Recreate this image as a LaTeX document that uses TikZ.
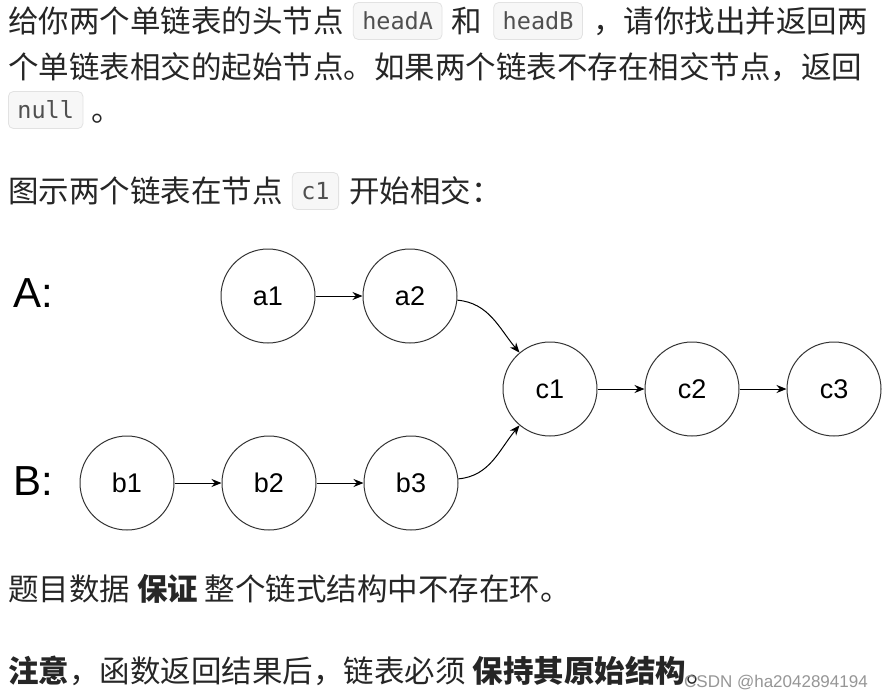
\documentclass[tikz,border=0pt]{standalone}
\usepackage{fontspec}
\newfontfamily\cjk{Noto Sans CJK SC}
\newfontfamily\codefont{DejaVu Sans Mono}
\newfontfamily\sansfont{Liberation Sans}
\usetikzlibrary{arrows.meta,positioning}
\definecolor{textcol}{RGB}{38,38,38}
\definecolor{codefill}{RGB}{247,247,247}
\definecolor{codeline}{RGB}{226,226,226}
\definecolor{codetext}{RGB}{80,80,80}
\definecolor{markcol}{RGB}{150,150,150}
\tikzset{
  para/.style={font=\cjk\fontsize{30.5}{36}\selectfont, text=textcol, inner sep=0pt,
    text height=26.8pt, text depth=3.7pt},
  code/.style={font=\codefont\fontsize{23.5}{28}\selectfont, text=codetext, draw=codeline,
    fill=codefill, rounded corners=5pt, inner xsep=9pt, inner ysep=10pt,
    text height=17pt, text depth=0pt, line width=0.8pt},
  listnode/.style={circle, draw=black!80, line width=1pt, minimum size=94pt,
    inner sep=0pt, font=\sansfont\fontsize{27}{30}\selectfont},
  link/.style={-{Stealth[length=10pt,width=8pt]}, line width=1pt},
}

\begin{document}
\begin{tikzpicture}[x=1pt, y=-1pt]
\useasboundingbox[fill=white] (0,0) rectangle (883,699);
% Problem statement
\node[para, anchor=west] (l1a) at (8,21) {给你两个单链表的头节点};
\node[code, right=9pt of l1a] (ha) {headA};
\node[para, right=9pt of ha] (l1b) {和};
\node[code, right=11pt of l1b] (hb) {headB};
\node[para, right=10pt of hb] (l1c) {，请你找出并返回两};
\node[para, anchor=west] (l2) at (8,67) {个单链表相交的起始节点。如果两个链表不存在相交节点，返回};
\node[code, anchor=west] (nul) at (8,110) {null};
\node[para, right=8pt of nul] (l3) {。};
\node[para, anchor=west] (l4a) at (8,191) {图示两个链表在节点};
\node[code, right=9pt of l4a] (cc) {c1};
\node[para, right=10pt of cc] (l4b) {开始相交：};
% List labels
\node[font=\sansfont\fontsize{42}{48}\selectfont, anchor=base west, inner sep=0pt] (la) at (13,307) {A:};
\node[font=\sansfont\fontsize{42}{48}\selectfont, anchor=base west, inner sep=0pt] (lb) at (13,495) {B:};
% List nodes
\node[listnode] (a1) at (268,296) {a1};
\node[listnode, right=47pt of a1] (a2) {a2};
\node[listnode] (c1) at (550,389) {c1};
\node[listnode, right=47pt of c1] (c2) {c2};
\node[listnode, right=47pt of c2] (c3) {c3};
\node[listnode] (b1) at (127,483) {b1};
\node[listnode, right=47pt of b1] (b2) {b2};
\node[listnode, right=47pt of b2] (b3) {b3};
% Links
\foreach \u/\v in {a1/a2, b1/b2, b2/b3, c1/c2, c2/c3}
  \draw[link] (\u) -- (\v);
\draw[link] (a2) to[out=-5, in=130] (c1);
\draw[link] (b3) to[out=5, in=-130] (c1);
% Notes
\node[para, anchor=west] (l5) at (8,589) {题目数据 \textbf{保证} 整个链式结构中不存在环。};
\node[para, anchor=west] (l6) at (8,671) {\textbf{注意}，函数返回结果后，链表必须 \textbf{保持其原始结构}。};
\node[font=\sansfont\fontsize{17}{20}\selectfont, text=markcol, anchor=east, inner sep=0pt] (mark) at (868,683) {CSDN @ha2042894194};
\end{tikzpicture}
\end{document}
